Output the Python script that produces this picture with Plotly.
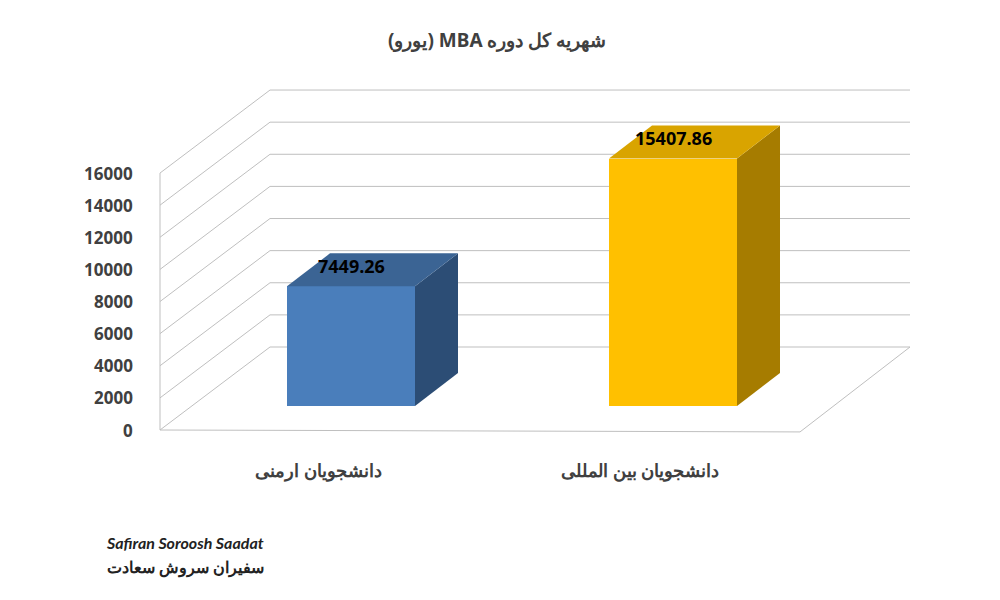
import plotly.graph_objects as go

categories = ["دانشجویان ارمنی", "دانشجویان بین المللی"]
values = [7449.26, 15407.86]
value_labels = ["7449.26", "15407.86"]
ticks = [0, 2000, 4000, 6000, 8000, 10000, 12000, 14000, 16000]

front = ["#4a7ebb", "#ffc000"]
side = ["#2c4d75", "#a67c00"]
top = ["#3b6494", "#d9a400"]

PX = 0.01606           # pixels per unit
DEPTH = 83 / PX        # floor depth in value units
DX = 110
bar_x = [351, 673]
bar_w = 128
base = 24 / PX
bdx, bdv = 43, 33 / PX

fig = go.Figure()
grid = dict(color="#bfbfbf", width=1)
shapes = []
def seg(x0, y0, x1, y1):
    shapes.append(dict(type="line", x0=x0, y0=y0, x1=x1, y1=y1, line=grid, layer="below"))
for t in ticks:
    seg(160, t, 160 + DX, t + DEPTH)
    seg(160 + DX, t + DEPTH, 910, t + DEPTH)
seg(160, 0, 800, -120)
seg(800, -120, 910, DEPTH)
seg(160, 0, 160, ticks[-1])

for i, v in enumerate(values):
    x0 = bar_x[i] - bar_w / 2
    x1 = bar_x[i] + bar_w / 2
    vt = v + base
    fig.add_trace(go.Bar(x=[bar_x[i]], y=[v], base=[base], width=[bar_w],
                         marker=dict(color=front[i], line=dict(width=0)), showlegend=False))
    fig.add_trace(go.Scatter(x=[x1, x1 + bdx, x1 + bdx, x1, x1], y=[base, base + bdv, vt + bdv, vt, base],
                             fill="toself", fillcolor=side[i], mode="lines", line=dict(width=0),
                             showlegend=False, hoverinfo="skip"))
    fig.add_trace(go.Scatter(x=[x0, x1, x1 + bdx, x0 + bdx, x0], y=[vt, vt, vt + bdv, vt + bdv, vt],
                             fill="toself", fillcolor=top[i], mode="lines", line=dict(width=0),
                             showlegend=False, hoverinfo="skip"))
    fig.add_annotation(x=bar_x[i] + 0, y=vt + bdv / 2 + 4 / PX, text="<b>%s</b>" % value_labels[i], showarrow=False,
                       font=dict(size=18, color="black", family="Open Sans"))
    fig.add_annotation(x=bar_x[i] - 33, y=-40 / PX, text="<b>%s</b>" % categories[i], showarrow=False,
                       font=dict(size=18, color="#404040", family="Noto Sans"))

for t in ticks:
    fig.add_annotation(x=135, y=t, text="<b>%d</b>" % t, showarrow=False, xanchor="right",
                       font=dict(size=17, color="#404040", family="Open Sans"))

fig.add_annotation(x=497, y=(428 - 38) / PX, text="<b>\u202bشهریه کل دوره MBA (یورو)\u202c</b>", showarrow=False,
                   font=dict(size=19, color="#404040", family="Noto Sans"))
fig.add_annotation(x=185, y=(428 - 540) / PX, text="<b><i>Safiran Soroosh Saadat</i></b>", showarrow=False,
                   font=dict(size=16, color="#222", family="Lato"))
fig.add_annotation(x=185, y=(428 - 565) / PX, text="<b>سفیران سروش سعادت</b>", showarrow=False,
                   font=dict(size=16, color="#222", family="Noto Sans"))

OX, OY = 8, -6
fig.update_layout(width=1000, height=600, margin=dict(l=0, r=0, t=0, b=0),
                  plot_bgcolor="white", paper_bgcolor="white", bargap=0, shapes=shapes,
                  xaxis=dict(range=[OX, 1000 + OX], visible=False, fixedrange=True),
                  yaxis=dict(range=[(-172 + OY) / PX, (428 + OY) / PX], visible=False, fixedrange=True))
fig.write_html("out.html")
